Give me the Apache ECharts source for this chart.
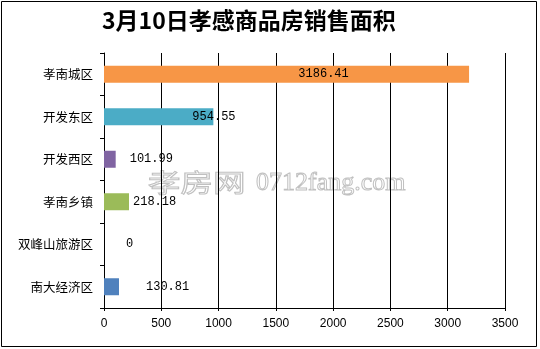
<!DOCTYPE html>
<html>
<head>
<meta charset="utf-8">
<script src="https://cdn.jsdelivr.net/npm/echarts@6/dist/echarts.min.js"></script>
<style>
  html, body { margin: 0; padding: 0; background: #fff; }
  #chart { width: 540px; height: 349px; }
</style>
</head>
<body>
<div id="chart"></div>
<script>
// Districts, top to bottom
var districts = ['孝南城区', '开发东区', '开发西区', '孝南乡镇', '双峰山旅游区', '南大经济区'];
// Sales area for each district
var areas = [3186.41, 954.55, 101.99, 218.18, 0, 130.81];
// One colour per district bar
var barColors = ['#F79646', '#4BACC6', '#8064A2', '#9BBB59', '#4F81BD', '#4F81BD'];
// Value-axis ticks
var xTicks = [0, 500, 1000, 1500, 2000, 2500, 3000, 3500];

var chartTitle = '3月10日孝感商品房销售面积';
var watermarkName = '孝房网';
var watermarkSite = '0712fang.com';

// Where each value label sits relative to its bar
var labelPlacement = [
  { position: 'inside', offset: [37, 0] },
  { position: 'right', offset: [-26, 0] },
  { position: 'right', offset: [9, 0] },
  { position: 'right', offset: [-1, 0] },
  { position: 'right', offset: [17, 0] },
  { position: 'right', offset: [22, 0] }
];

var chart = echarts.init(document.getElementById('chart'), null, { renderer: 'canvas' });

var seriesData = areas.map(function (v, i) {
  return {
    value: v,
    itemStyle: { color: barColors[i] },
    label: {
      show: true,
      position: labelPlacement[i].position,
      offset: labelPlacement[i].offset,
      distance: 5
    }
  };
});

var outline = { fill: 'rgba(255,255,255,0)', stroke: '#c0c0c0', lineWidth: 1 };

chart.setOption({
  animation: false,
  backgroundColor: '#ffffff',
  title: {
    text: chartTitle,
    left: 97,
    top: 4,
    textStyle: {
      fontFamily: 'Noto Sans CJK SC',
      fontWeight: 'bold',
      fontSize: 23,
      color: '#000'
    }
  },
  grid: { left: 104, right: 35, top: 53, bottom: 41, containLabel: false },
  xAxis: {
    type: 'value',
    min: xTicks[0],
    max: xTicks[xTicks.length - 1],
    interval: xTicks[1] - xTicks[0],
    axisLine: { show: true, lineStyle: { color: '#000', width: 1 } },
    axisTick: { show: true, inside: false, length: 3, lineStyle: { color: '#000' } },
    axisLabel: {
      margin: 10,
      fontFamily: 'Liberation Sans',
      fontSize: 12,
      color: '#000',
      formatter: function (v) { return String(v); }
    },
    splitLine: { show: true, lineStyle: { color: '#000', width: 1 } }
  },
  yAxis: {
    type: 'category',
    data: districts,
    inverse: true,
    axisLine: { show: true, lineStyle: { color: '#000', width: 1 } },
    axisTick: { show: true, length: 4, lineStyle: { color: '#000' } },
    axisLabel: {
      margin: 11,
      fontFamily: 'Noto Sans CJK SC',
      fontSize: 12.5,
      color: '#000'
    },
    splitLine: { show: false }
  },
  graphic: [
    {
      type: 'rect',
      z: -10,
      silent: true,
      shape: { x: 1.5, y: 1.5, width: 535, height: 345 },
      style: { fill: 'none', stroke: '#000', lineWidth: 1 }
    },
    {
      type: 'text',
      z: -5,
      silent: true,
      x: 148,
      y: 170,
      scaleX: 1.3,
      style: Object.assign({
        text: watermarkName,
        font: '25px "Noto Sans CJK SC"'
      }, outline)
    },
    {
      type: 'text',
      z: -5,
      silent: true,
      x: 256,
      y: 170,
      style: Object.assign({
        text: watermarkSite,
        font: '26px "Liberation Serif"'
      }, outline)
    }
  ],
  series: [{
    type: 'bar',
    barWidth: '40%',
    data: seriesData,
    label: {
      show: true,
      fontFamily: 'Liberation Mono',
      fontSize: 12,
      color: '#000'
    }
  }]
});
</script>
</body>
</html>
